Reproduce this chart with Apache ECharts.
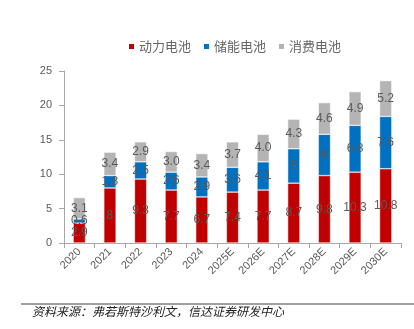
<!DOCTYPE html>
<html><head><meta charset="utf-8">
<script src="https://cdn.jsdelivr.net/npm/echarts@6/dist/echarts.min.js"></script>
<style>html,body{margin:0;padding:0;background:#fff;}#c{width:414px;height:329px;}</style>
</head><body><div id="c"></div>
<script>
const categories = ['2020','2021','2022','2023','2024','2025E','2026E','2027E','2028E','2029E','2030E'];
const powerBattery = [2.9, 8, 9.3, 7.7, 6.7, 7.4, 7.7, 8.7, 9.8, 10.3, 10.8];
const storageBattery = [0.6, 1.8, 2.5, 2.6, 2.9, 3.6, 4.1, 5, 6, 6.8, 7.6];
const consumerBattery = [3.1, 3.4, 2.9, 3.0, 3.4, 3.7, 4.0, 4.3, 4.6, 4.9, 5.2];
const consumerLabels = ['3.1','3.4','2.9','3.0','3.4','3.7','4.0','4.3','4.6','4.9','5.2'];
const yTicks = [0, 5, 10, 15, 20, 25];

const chart = echarts.init(document.getElementById('c'));
const lbl = {show: true, position: 'inside', color: '#595959', fontSize: 12, fontFamily: 'Liberation Sans, Arial, sans-serif'};
chart.setOption({
  animation: false,
  legend: {
    top: 35, left: 122, itemWidth: 7, itemHeight: 7, itemGap: 11,
    icon: 'rect',
    textStyle: {color: '#666666', fontSize: 13, padding: [0, 0, 0, -1], fontFamily: 'Noto Sans CJK SC'},
    data: ['动力电池','储能电池','消费电池']
  },
  grid: {left: 64, right: 13, top: 71, bottom: 86, containLabel: false},
  xAxis: {
    type: 'category', data: categories,
    axisLine: {lineStyle: {color: '#A6A6A6'}},
    axisTick: {show: true, alignWithLabel: false, lineStyle: {color: '#A6A6A6'}},
    axisLabel: {rotate: 45, color: '#595959', fontSize: 11, margin: 7, fontFamily: 'Liberation Sans, Arial, sans-serif', interval: 0}
  },
  yAxis: {
    type: 'value', min: yTicks[0], max: yTicks[yTicks.length-1], interval: 5,
    axisLine: {show: true, lineStyle: {color: '#A6A6A6'}},
    axisTick: {show: true, lineStyle: {color: '#A6A6A6'}},
    splitLine: {show: false},
    axisLabel: {color: '#595959', fontSize: 11, margin: 12, fontFamily: 'Liberation Sans, Arial, sans-serif'}
  },
  series: [
    {name: '动力电池', type: 'bar', stack: 's', barWidth: '40%', data: powerBattery,
     itemStyle: {color: '#C00000', borderColor: '#ffffff', borderWidth: 0.5}, label: lbl},
    {name: '储能电池', type: 'bar', stack: 's', data: storageBattery,
     itemStyle: {color: '#0070C0', borderColor: '#ffffff', borderWidth: 0.5}, label: lbl},
    {name: '消费电池', type: 'bar', stack: 's', data: consumerBattery,
     itemStyle: {color: '#B4B4B4', borderColor: '#ffffff', borderWidth: 0.5},
     label: Object.assign({}, lbl, {formatter: p => consumerLabels[p.dataIndex]})}
  ],
  graphic: [
    {type: 'line', shape: {x1: 21, y1: 304, x2: 414, y2: 304}, style: {stroke: '#404040', lineWidth: 1}},
    {type: 'text', left: 32, top: 305, style: {text: '资料来源：弗若斯特沙利文，信达证券研发中心', fill: '#222', fontSize: 12, fontStyle: 'italic', fontFamily: 'Noto Sans CJK SC'}}
  ]
});
</script></body></html>
